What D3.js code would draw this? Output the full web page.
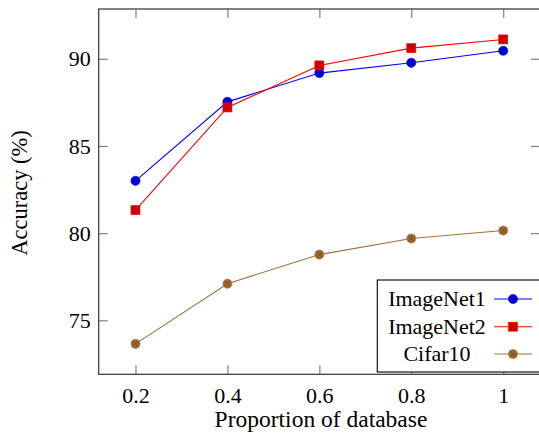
<!DOCTYPE html>
<html><head><meta charset="utf-8">
<script src="https://cdn.jsdelivr.net/npm/d3@7"></script>
<style>body{margin:0;background:#fff}svg{display:block}</style>
</head><body>
<script>
const proportions = [0.2, 0.4, 0.6, 0.8, 1];
const imagenet1 = [83.0, 87.53, 89.18, 89.77, 90.46];
const imagenet2 = [81.32, 87.21, 89.62, 90.61, 91.11];
const cifar10 = [73.65, 77.1, 78.77, 79.69, 80.15];
const seriesNames = ["ImageNet1", "ImageNet2", "Cifar10"];
const xTicks = [0.2, 0.4, 0.6, 0.8, 1];
const xTickLabels = ["0.2", "0.4", "0.6", "0.8", "1"];
const yTicks = [75, 80, 85, 90];

const W = 539, H = 436;
const L = 98.7, R = 540, T = 9, B = 374.3;
const font = "Liberation Serif";
const fs = 22;

const svg = d3.select("body").append("svg").attr("width", W).attr("height", H);

const x = d3.scaleLinear().domain([0.12, 1.08]).range([L, R]);
const y = d3.scaleLinear().domain([71.905, 92.855]).range([B, T]);

const series = [
  {name: seriesNames[0], vals: imagenet1, line: "#0000ff", fill: "#0000cc", stroke: "#0000ff", mark: "circle"},
  {name: seriesNames[1], vals: imagenet2, line: "#ff0000", fill: "#cc0000", stroke: "#ff0000", mark: "square"},
  {name: seriesNames[2], vals: cifar10, line: "#a0703f", fill: "#996633", stroke: "#bf8040", mark: "otimes"}
];

const tickLen = 9;
const axG = svg.append("g");
const xAxisB = d3.axisBottom(x).tickValues(xTicks).tickSizeInner(-tickLen).tickSizeOuter(0)
  .tickFormat((d, i) => xTickLabels[i]).tickPadding(13);
const xAxisT = d3.axisTop(x).tickValues(xTicks).tickSizeInner(-tickLen).tickSizeOuter(0).tickFormat("");
const yAxisL = d3.axisLeft(y).tickValues(yTicks).tickSizeInner(-tickLen).tickSizeOuter(0).tickPadding(8);
const yAxisR = d3.axisRight(y).tickValues(yTicks).tickSizeInner(-tickLen).tickSizeOuter(0).tickFormat("");

function styleAxis(g) {
  g.select(".domain").remove();
  g.attr("font-family", font).attr("font-size", fs);
  g.selectAll(".tick line").attr("stroke", "#808080").attr("stroke-width", 1.2);
  g.selectAll(".tick text").attr("font-family", font).attr("font-size", fs).attr("fill", "#000");
}
axG.append("g").attr("transform", `translate(0,${B})`).call(xAxisB).call(styleAxis);
axG.append("g").attr("transform", `translate(0,${T})`).call(xAxisT).call(styleAxis);
axG.append("g").attr("transform", `translate(${L},0)`).call(yAxisL).call(styleAxis);
axG.append("g").attr("transform", `translate(${R},0)`).call(yAxisR).call(styleAxis);

svg.append("rect").attr("x", L).attr("y", T).attr("width", R - L).attr("height", B - T)
  .attr("fill", "none").attr("stroke", "#404040").attr("stroke-width", 1.3);

function drawMarker(g, s, cx, cy) {
  if (s.mark === "circle") {
    g.append("circle").attr("cx", cx).attr("cy", cy).attr("r", 4.6)
      .attr("fill", s.fill).attr("stroke", s.stroke).attr("stroke-width", 0.6);
  } else if (s.mark === "square") {
    g.append("rect").attr("x", cx - 4.5).attr("y", cy - 4.5).attr("width", 9).attr("height", 9)
      .attr("fill", s.fill).attr("stroke", s.stroke).attr("stroke-width", 0.6);
  } else {
    const r = 4.6;
    g.append("circle").attr("cx", cx).attr("cy", cy).attr("r", r)
      .attr("fill", s.fill).attr("stroke", s.stroke).attr("stroke-width", 0.6);
    const k = r * Math.SQRT1_2;
    g.append("path").attr("d", `M${cx - k},${cy - k}L${cx + k},${cy + k}M${cx - k},${cy + k}L${cx + k},${cy - k}`)
      .attr("stroke", "#5a3a1a").attr("stroke-width", 0.6).attr("opacity", 0.8);
  }
}

const line = d3.line().x((d, i) => x(proportions[i])).y(d => y(d));
const plotG = svg.append("g");
series.forEach(s => {
  plotG.append("path").datum(s.vals).attr("d", line)
    .attr("fill", "none").attr("stroke", s.line).attr("stroke-width", 1.1);
  const mg = plotG.append("g");
  s.vals.forEach((v, i) => drawMarker(mg, s, x(proportions[i]), y(v)));
});

const lg = svg.append("g");
lg.append("rect").attr("x", 377.3).attr("y", 280).attr("width", 170).attr("height", 92)
  .attr("fill", "#fff").attr("stroke", "#000").attr("stroke-width", 1.1);
const rowY = [299, 326.7, 354];
series.forEach((s, i) => {
  lg.append("text").attr("x", 437).attr("y", rowY[i]).attr("dy", "0.33em")
    .attr("text-anchor", "middle").attr("font-family", font).attr("font-size", fs).attr("fill", "#000").text(s.name);
  lg.append("line").attr("x1", 494).attr("x2", 532).attr("y1", rowY[i]).attr("y2", rowY[i])
    .attr("stroke", s.line).attr("stroke-width", 1.1);
  drawMarker(lg, s, 513, rowY[i]);
});

svg.append("text").attr("x", 321).attr("y", 427).attr("text-anchor", "middle")
  .attr("font-family", font).attr("font-size", 23.5).attr("fill", "#000").text("Proportion of database");
svg.append("text").attr("transform", `translate(27,193) rotate(-90)`).attr("text-anchor", "middle")
  .attr("font-family", font).attr("font-size", 22.5).attr("fill", "#000").text("Accuracy (%)");
</script>
</body></html>
